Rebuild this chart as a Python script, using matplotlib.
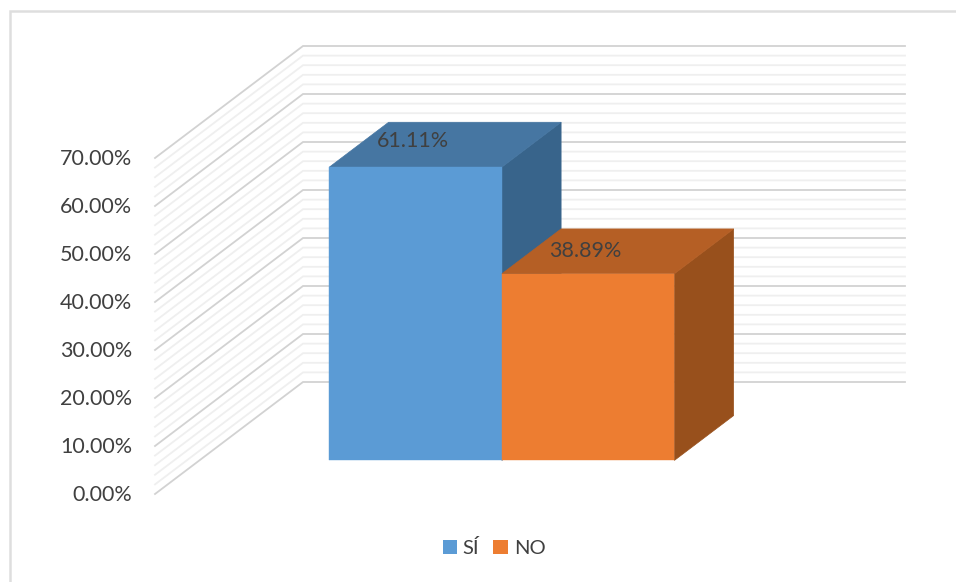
import numpy as np
import matplotlib
matplotlib.use('Agg')
import matplotlib.pyplot as plt
from matplotlib.patches import Polygon, Rectangle

plt.rcParams['font.family'] = ['Lato', 'DejaVu Sans']

categories = ['SÍ', 'NO']
values = [61.11, 38.89]
labels = ['61.11%', '38.89%']
tick_values = [0, 10, 20, 30, 40, 50, 60, 70]
tick_labels = ['0.00%', '10.00%', '20.00%', '30.00%', '40.00%', '50.00%', '60.00%', '70.00%']
minor_values = [v for v in range(0, 71, 2) if v % 10 != 0]

front_colors = ['#5B9BD5', '#ED7D31']
top_colors = ['#4676A2', '#B55F25']
side_colors = ['#38648B', '#98501C']
text_color = '#404040'

# oblique projection: one category = 172.5 px, one percent = 4.8 px,
# going from the front to the back of the box (d=0..1) moves 148 px right, 112 px up
W, H = 956, 582
X0, Y0 = 371.25, 494
CAT_PX, PCT_PX = 172.5, 4.8
DX = 148 / CAT_PX
DY = 112 / PCT_PX
LEFT, RIGHT = -1.2536, 2.2362
D_FRONT, D_BACK = 0.30, 0.70
LABEL_DY = [26, 23]


def proj(c, v, d=0.0):
    return c + DX * d, v + DY * d


fig = plt.figure(figsize=(W / 100, H / 100), dpi=100)
ax = fig.add_axes([0, 0, 1, 1])
ax.set_xlim(-X0 / CAT_PX, (W - X0) / CAT_PX)
ax.set_ylim((Y0 - H) / PCT_PX, Y0 / PCT_PX)
ax.axis('off')


def gridline(v, color, lw):
    pts = [proj(LEFT, v, 0), proj(LEFT, v, 1), proj(RIGHT, v, 1)]
    ax.plot(*zip(*pts), color=color, lw=lw, solid_joinstyle='miter', zorder=1)


for v in minor_values:
    gridline(v, '#EFEFEF', 1.3)
for v in tick_values:
    gridline(v, '#D2D2D2', 1.3)

for i, (val, lab) in enumerate(zip(values, labels)):
    l, r = i - 0.5, i + 0.5
    front = [proj(l, 0, D_FRONT), proj(r, 0, D_FRONT), proj(r, val, D_FRONT), proj(l, val, D_FRONT)]
    top = [proj(l, val, D_FRONT), proj(r, val, D_FRONT), proj(r, val, D_BACK), proj(l, val, D_BACK)]
    side = [proj(r, 0, D_FRONT), proj(r, 0, D_BACK), proj(r, val, D_BACK), proj(r, val, D_FRONT)]
    z = 3 + i
    # thin same-colour edges hide the antialiasing seams between the faces
    ax.add_patch(Polygon(side, closed=True, fc=side_colors[i], ec=side_colors[i], lw=0.5, zorder=z))
    ax.add_patch(Polygon(top, closed=True, fc=top_colors[i], ec=top_colors[i], lw=0.5, zorder=z))
    ax.add_patch(Polygon(front, closed=True, fc=front_colors[i], ec=front_colors[i], lw=0.3, zorder=z))
    tx, ty = proj(i, val, D_FRONT)
    ax.annotate(lab, (tx, ty), xytext=(-2.5, LABEL_DY[i]), textcoords='offset pixels', ha='center', va='center',
                color=text_color, fontsize=15.5, zorder=10)

for v, lab in zip(tick_values, tick_labels):
    tx, ty = proj(LEFT, v, 0)
    ax.annotate(lab, (tx, ty), xytext=(-23, -1), textcoords='offset pixels', ha='right', va='center',
                color=text_color, fontsize=15.5)

# chart frame, right and bottom sides fall off the picture
fig.add_artist(Rectangle((10 / W, -0.01), (W - 5) / W, 1 - 10.5 / H + 0.01, transform=fig.transFigure,
                         fc='none', ec='#DEDEDE', lw=1.8))

# legend
handles = [Rectangle((0, 0), 1, 1, fc=c, ec='none') for c in front_colors]
ax.legend(handles, categories, loc='center', bbox_to_anchor=(494 / W, 1 - 548 / H), ncol=2, frameon=False,
          fontsize=14.5, labelcolor=text_color, handlelength=0.7, handleheight=0.7, handletextpad=0.3,
          columnspacing=0.7, borderpad=0)

fig.savefig('out.png', dpi=100, facecolor='white')
